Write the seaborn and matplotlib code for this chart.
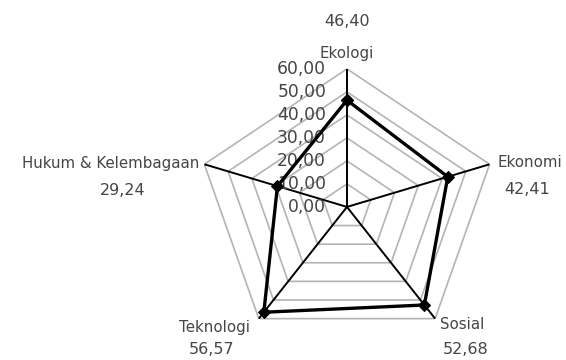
import numpy as np
import pandas as pd
import matplotlib
matplotlib.use("Agg")
import matplotlib.pyplot as plt
import seaborn as sns

# Indicator dimensions and their index scores
categories = ["Ekologi", "Ekonomi", "Sosial", "Teknologi", "Hukum & Kelembagaan"]
values = [46.40, 42.41, 52.68, 56.57, 29.24]
value_labels = ["46,40", "42,41", "52,68", "56,57", "29,24"]
ring_levels = [0, 10, 20, 30, 40, 50, 60]
ring_labels = ["0,00", "10,00", "20,00", "30,00", "40,00", "50,00", "60,00"]

sns.set_theme(style="white")
plt.rcParams["font.family"] = ["DejaVu Sans"]

n = len(categories)
angles = np.linspace(0, 2 * np.pi, n, endpoint=False)

fig = plt.figure(figsize=(5.66, 3.6), dpi=100)
ax = fig.add_axes([0.348, 0.0417, 0.530, 0.767], projection="polar")
ax.set_aspect("auto")
ax.set_theta_offset(np.pi / 2)
ax.set_theta_direction(-1)
ax.set_ylim(0, 60)
ax.grid(False)
ax.spines["polar"].set_visible(False)
ax.set_xticks([])
ax.set_yticks([])
ax.patch.set_alpha(0)

# Pentagon rings
ring_theta = np.append(angles, angles[0])
for lvl in ring_levels[1:]:
    ax.plot(ring_theta, [lvl] * (n + 1), color="#b4b4b4", lw=1.2, zorder=1)

# Spokes
for a in angles:
    ax.plot([a, a], [0, 60], color="black", lw=1.4, zorder=2)

# Ring value labels along the top spoke
text_color = "#454545"
for lvl, lab in zip(ring_levels, ring_labels):
    ax.annotate(lab, xy=(0, lvl), xytext=(-15, 0), textcoords="offset points",
                ha="right", va="center", fontsize=12.3, color=text_color, zorder=3)

# Score polygon
df = pd.DataFrame({"theta": np.append(angles, angles[0]),
                   "score": values + [values[0]]})
sns.lineplot(data=df, x="theta", y="score", ax=ax, sort=False, estimator=None,
             color="black", lw=2.4, marker="D", markersize=6,
             markeredgecolor="black", zorder=5)
ax.set_xlabel("")
ax.set_ylabel("")

# Category names and score labels around the outer ring
name_pos = [((0, 11), "center", "center"),
            ((5.5, 1.5), "left", "center"),
            ((3.5, -4), "left", "center"),
            ((-32, -6.5), "center", "center"),
            ((-3.5, 0.7), "right", "center")]
val_pos = [(0, 34), (27, -18), (22, -22), (-34, -22), (-59, -19)]
for a, name, vlab, (off, ha, va), voff in zip(angles, categories, value_labels, name_pos, val_pos):
    ax.annotate(name, xy=(a, 60), xytext=off, textcoords="offset points",
                ha=ha, va=va, fontsize=10.8, color=text_color)
    ax.annotate(vlab, xy=(a, 60), xytext=voff, textcoords="offset points",
                ha="center", va="center", fontsize=11.5, color=text_color)

fig.savefig("out.png", dpi=100)
